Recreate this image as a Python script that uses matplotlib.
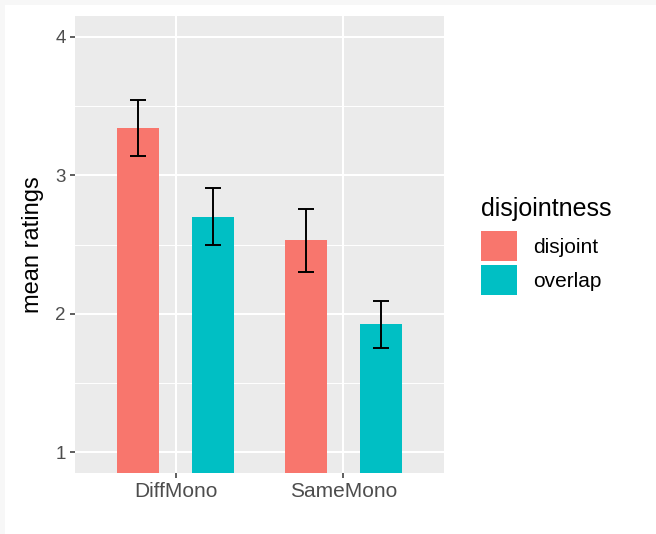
import matplotlib.pyplot as plt
from matplotlib.patches import Patch, Rectangle

# data
conditions = ['DiffMono', 'SameMono']
groups = ['disjoint', 'overlap']
means = {
    'disjoint': [3.34, 2.53],
    'overlap': [2.70, 1.925],
}
errors = {
    'disjoint': [0.20, 0.226],
    'overlap': [0.205, 0.17],
}
colors = {'disjoint': '#F8766D', 'overlap': '#00BFC4'}
offsets = {'disjoint': -0.225, 'overlap': 0.225}

plt.rcParams['font.family'] = ['Liberation Sans', 'DejaVu Sans']

W, H = 656, 534
fig = plt.figure(figsize=(W / 100, H / 100), dpi=100)
fig.patch.set_facecolor('#f7f7f7')

# white page with a thin grey strip on the left and top
bg = fig.add_axes([0, 0, 1, 1])
bg.axis('off')
bg.add_patch(Rectangle((5 / W, 0), 1, 1 - 5 / H, transform=bg.transAxes,
                       facecolor='white', edgecolor='none'))

ax = fig.add_axes([75 / W, (H - 473) / H, 369 / W, 457 / H])
ax.set_facecolor('#EBEBEB')

x = list(range(len(conditions)))
for g in groups:
    xs = [i + offsets[g] for i in x]
    ax.bar(xs, means[g], width=0.25, bottom=0, color=colors[g], zorder=2)
    ax.errorbar(xs, means[g], yerr=errors[g], fmt='none', ecolor='black',
                elinewidth=1.4, capsize=6.1, capthick=1.4, zorder=3)

ax.set_xlim(-0.6, 1.6)
ax.set_ylim(0.85, 4.15)
ax.set_xticks(x)
ax.set_xticklabels(conditions)
ax.set_yticks([1, 2, 3, 4])
ax.set_yticks([1.5, 2.5, 3.5], minor=True)

ax.grid(which='major', color='white', linewidth=1.5, zorder=1)
ax.grid(which='minor', axis='y', color='white', linewidth=0.7, zorder=1)
ax.set_axisbelow(True)
for s in ax.spines.values():
    s.set_visible(False)

ax.tick_params(axis='both', which='major', length=3.5, width=1.1, color='#333333',
               labelcolor='#4d4d4d')
ax.tick_params(axis='x', labelsize=15, pad=3)
ax.tick_params(axis='y', labelsize=13.5, pad=3)
ax.tick_params(which='minor', length=0)

ax.set_ylabel('mean ratings', fontsize=17, color='black', labelpad=8)

handles = [Patch(facecolor=colors[g], edgecolor='none') for g in groups]
leg = fig.legend(handles, groups, loc='upper left',
                 bbox_to_anchor=(481 / W, 1 - 197 / H),
                 frameon=False, fontsize=15, title='disjointness',
                 title_fontsize=18, alignment='left',
                 handlelength=1.74, handleheight=1.87, labelspacing=0.18,
                 handletextpad=0.75, borderpad=0, borderaxespad=0)
# more room between the title and the keys, as ggplot does
leg._legend_box.sep = 7

fig.savefig('out.png', dpi=100)
